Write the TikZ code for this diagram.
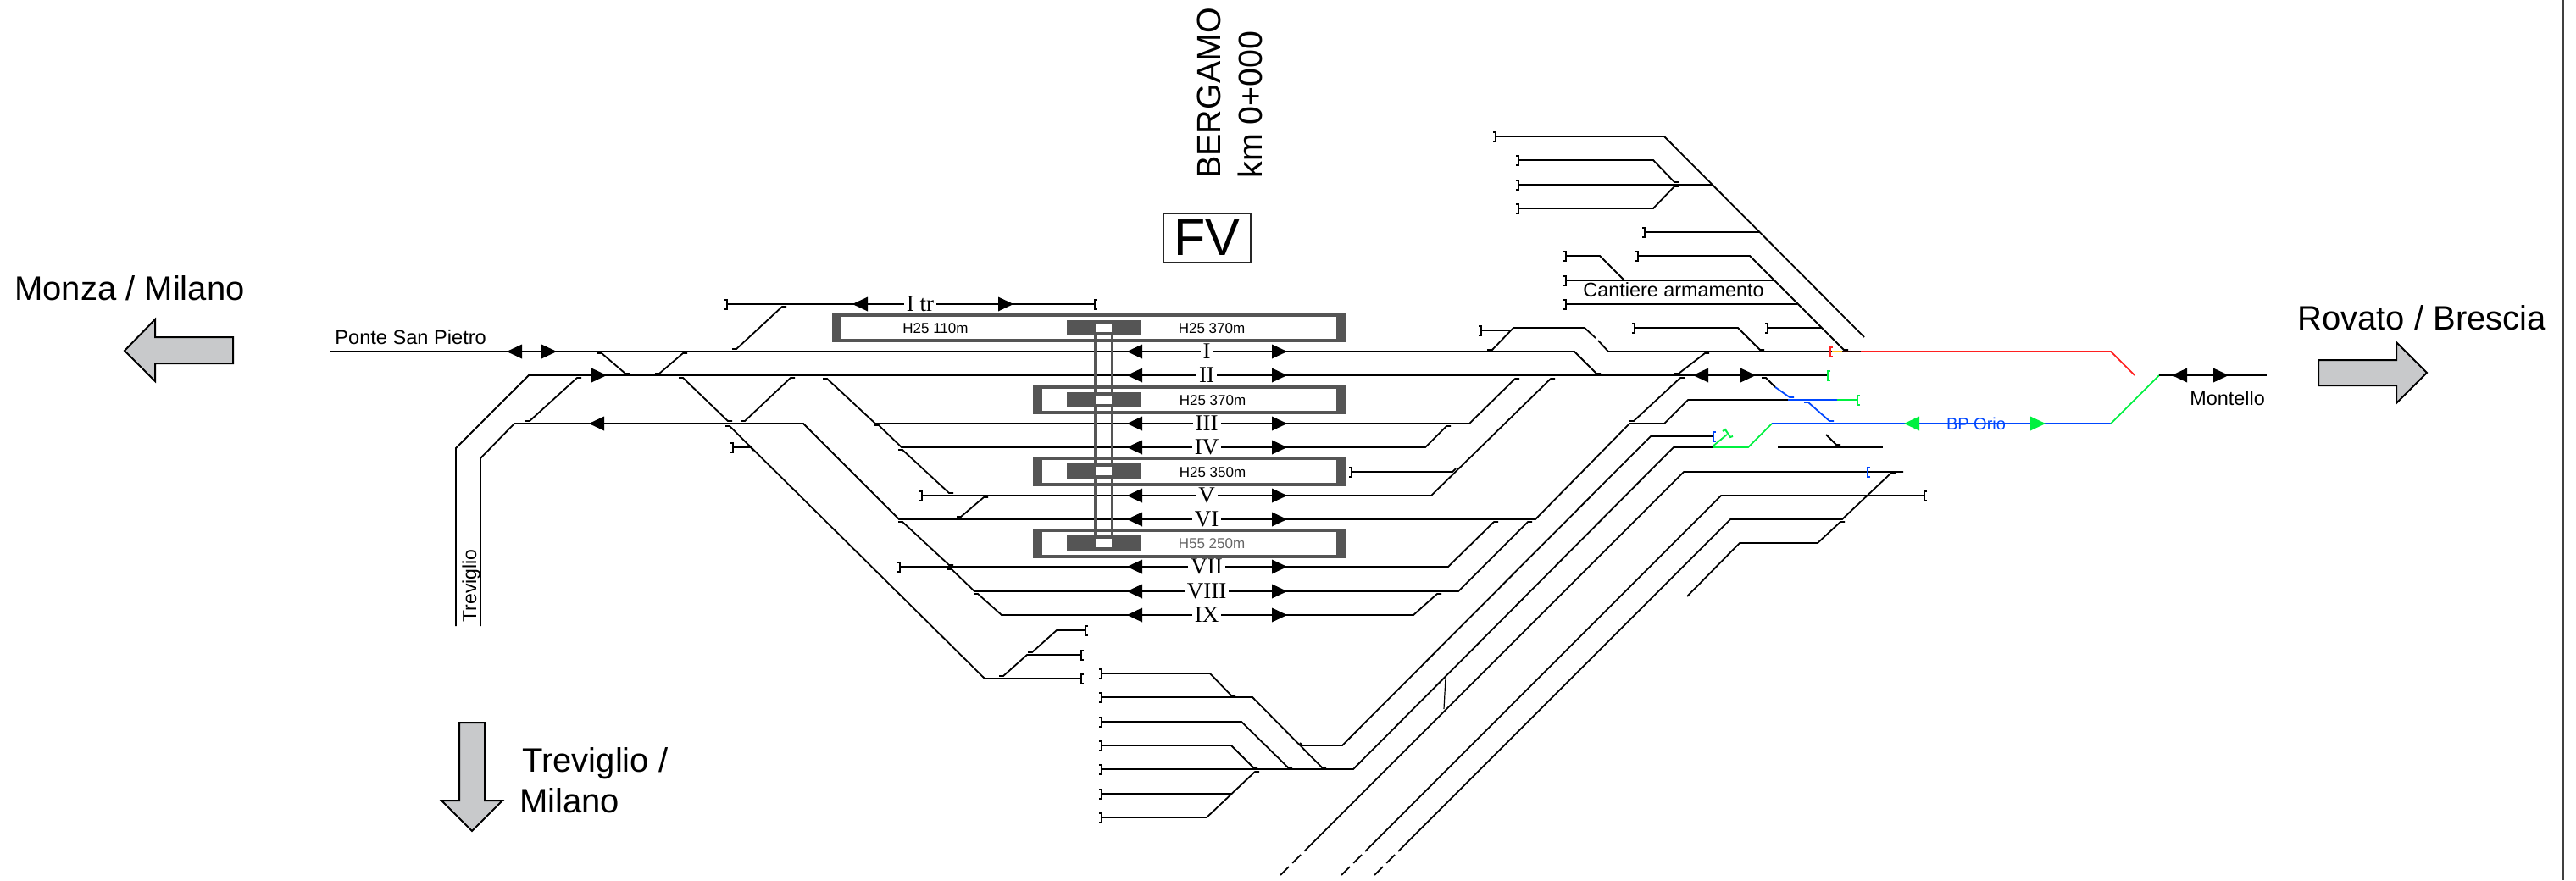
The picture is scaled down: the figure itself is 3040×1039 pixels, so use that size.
\documentclass[tikz,border=0pt]{standalone}
\usepackage{fontspec}
\setmainfont{Liberation Sans}
\newfontfamily\romanfam{Liberation Serif}
\definecolor{platgray}{HTML}{555555}
\definecolor{arrowgray}{HTML}{C8C9CB}
\definecolor{trackgreen}{HTML}{00F040}
\definecolor{trackblue}{HTML}{0047FF}
\definecolor{trackred}{HTML}{FF2020}
\definecolor{trackorange}{HTML}{FFC020}
\newcommand{\fs}[1]{\fontsize{#1}{#1}\selectfont}
% buffers: ] on the left end of a track, [ on the right end
\newcommand{\bufL}[3][black]{\draw[buf,#1] (#2-3,#3-5.5)--(#2,#3-5.5)--(#2,#3+5.5)--(#2-3,#3+5.5);}
\newcommand{\bufR}[3][black]{\draw[buf,#1] (#2+3,#3-5.5)--(#2,#3-5.5)--(#2,#3+5.5)--(#2+3,#3+5.5);}
% switch: points given left to right, ticks at both ends
\newcommand{\swt}[5][black]{\draw[trk,#1] (#2-5,#3)--(#2,#3)--(#4,#5)--(#4+5,#5);}
% arrowheads
\newcommand{\hdL}[3][black]{\fill[#1] (#2,#3)--(#2+18,#3-8.5)--(#2+18,#3+8.5)--cycle;}
\newcommand{\hdR}[3][black]{\fill[#1] (#2,#3)--(#2-18,#3-8.5)--(#2-18,#3+8.5)--cycle;}
\newcommand{\platform}[4]{%
  \draw[line width=1.75pt,platgray,fill=white] (#1,#2) rectangle (#3,#4);
  \fill[platgray] (#1-1,#2) rectangle (#1+9,#4);
  \fill[platgray] (#3-9,#2) rectangle (#3+1,#4);}
\tikzset{
  trk/.style={line width=0.9pt,line join=miter},
  buf/.style={line width=1pt,line join=miter},
  lab/.style={inner sep=0pt,text=black},
  roman/.style={inner ysep=0pt,inner xsep=1.5pt,fill=white,font=\romanfam\fs{13.5}},
  plab/.style={inner sep=0pt,font=\fs{8.5}},
  bigarrow/.style={draw=black,line width=1pt,fill=arrowgray,line join=miter},
}
\begin{document}
\begin{tikzpicture}[x=0.5pt,y=-0.5pt]
\useasboundingbox (0,0) rectangle (3040,1039);
% frame line on the right
\draw[line width=0.7pt,color=black!75] (3025,0)--(3025,1039);

% ---- main tracks
\draw[trk] (390,415)--(1858,415)--(1884,441)--(1889,441);
\draw[trk] (1898,415)--(2162,415);
\draw[trk] (1898,415)--(1886,402);
\draw[trk] (1883,399)--(1870,387)--(1786,387)--(1761,413)--(1755,413);
\draw[trk] (1782,390)--(1748,390); \bufL{1748}{390}
\draw[trk] (538,739)--(538,529)--(624,443)--(2157,443);
\draw[trk] (567,739)--(567,541)--(607,500)--(948,500)--(1061,613)--(1812,613)--(1923,500)--(1964,500)--(1992,472)--(2110,472);
\draw[trk] (971,447)--(976,447)--(1033,500)--(1734,500)--(1788,447)--(1793,447);
\draw[trk] (1032,502)--(1037,502)--(1064,528)--(1682,528)--(1707,503)--(1712,503);
\draw[trk] (1088,585)--(1689,585)--(1830,447)--(1835,447); \bufL{1088}{585}
\draw[trk] (1062,669)--(1709,669)--(1763,616)--(1768,616); \bufL{1062}{669}
\draw[trk] (1118,672)--(1123,672)--(1150,698)--(1721,698)--(1803,616)--(1808,616);
\draw[trk] (1149,701)--(1154,701)--(1182,726)--(1668,726)--(1696,701)--(1701,701);
\draw[trk] (856,503)--(861,503)--(1162,801)--(1276,801); \bufR{1276}{801}
% I tr
\draw[trk] (858,359)--(1292,359); \bufL{858}{359} \bufR{1292}{359}
% switches near the left
\swt{869}{412}{923}{362}
\swt{710}{417}{738}{441}
\swt{778}{441}{806}{417}
\swt{625}{497}{681}{446}
\swt{806}{446}{859}{497}
\swt{879}{497}{933}{446}
\swt{1065}{531}{1120}{582}
\swt{1134}{610}{1161}{587}
\swt{1065}{616}{1120}{667}
\draw[trk] (865,528)--(886,528)--(889,532); \bufL{865}{528}
% bottom-left yard
\swt{1184}{798}{1212}{773}
\draw[trk] (1212,773)--(1276,773); \bufR{1276}{773}
\draw[trk] (1213,770)--(1218,770)--(1247,744)--(1281,744); \bufR{1281}{744}
% lower yard
\draw[trk] (1300,795)--(1428,795)--(1453,821)--(1458,821); \bufL{1300}{795}
\draw[trk] (1300,823)--(1478,823)--(1560,906)--(1565,906); \bufL{1300}{823}
\draw[trk] (1300,852)--(1465,852)--(1520,906)--(1525,906); \bufL{1300}{852}
\draw[trk] (1300,880)--(1453,880)--(1479,906)--(1484,906); \bufL{1300}{880}
\draw[trk] (1300,908)--(1597,908)--(1975,528)--(2021,528); \bufL{1300}{908}
\draw[trk] (1300,937)--(1453,937); \bufL{1300}{937}
\draw[trk] (1300,965)--(1424,965)--(1481,911)--(1486,911); \bufL{1300}{965}
\draw[trk] (1534,877)--(1537,880)--(1584,880)--(1948,515)--(2022,515);
\draw[line width=0.6pt] (1706,800)--(1704,837);
% long diagonals with dashed ends
\draw[trk] (1540,1004)--(1987,557)--(2246,557);
\draw[trk,dash pattern=on 7pt off 3pt] (1511,1033)--(1540,1004);
\draw[trk] (1611,1005)--(2031,585)--(2271,585); \bufR{2271}{585}
\draw[trk,dash pattern=on 7pt off 3pt] (1583,1033)--(1611,1005);
\draw[trk] (1650,1005)--(2042,613)--(2174,613)--(2231,559)--(2237,559);
\draw[trk,dash pattern=on 7pt off 3pt] (1622,1033)--(1650,1005);
\draw[trk] (1991,704)--(2053,641)--(2145,641)--(2172,616)--(2177,616);
\draw[trk] (2098,528)--(2222,528);
\draw[trk] (2155,513)--(2167,525)--(2172,525);
% platform stub
\draw[trk] (1595,557)--(1714,557)--(1718,553); \bufL{1595}{557}
% upper right yard
\draw[trk] (1765,161)--(1964,161)--(2200,398); \bufL{1765}{161}
\draw[trk] (1792,189)--(1951,189)--(1976,215)--(1981,215); \bufL{1792}{189}
\draw[trk] (1792,218)--(2021,218); \bufL{1792}{218}
\draw[trk] (1792,246)--(1951,246)--(1976,220)--(1981,220); \bufL{1792}{246}
\draw[trk] (1941,274)--(2077,274); \bufL{1941}{274}
\draw[trk] (1848,302)--(1888,302)--(1917,331); \bufL{1848}{302}
\draw[trk] (1933,302)--(2065,302)--(2176,413)--(2181,413); \bufL{1933}{302}
\draw[trk] (1848,331)--(2094,331); \bufL{1848}{331}
\draw[trk] (1848,359)--(2121,359); \bufL{1848}{359}
\draw[trk] (1929,387)--(2051,387)--(2077,413)--(2082,413); \bufL{1929}{387}
\draw[trk] (2086,387)--(2150,387); \bufL{2086}{387}
\swt{1981}{441}{2012}{417}
\swt{1928}{497}{1983}{446}
\draw[trk] (2079,446)--(2084,446)--(2095,457);

% ---- coloured section
\draw[trk,trackblue] (2095,457)--(2112,469)--(2117,469);
\swt[trackblue]{2134}{475}{2159}{497}
\draw[trk,trackblue] (2110,472)--(2168,472);
\draw[trk,trackgreen] (2168,472)--(2192,472); \bufR[trackgreen]{2192}{472}
\bufR[trackgreen]{2157}{443}
\draw[trk,trackgreen] (2021,528)--(2063,528)--(2091,500);
\draw[trk,trackblue] (2091,500)--(2491,500);
\draw[trk,trackgreen] (2491,500)--(2548,443);
\draw[trk] (2548,443)--(2675,443);
\draw[trk,trackgreen] (2021,527)--(2038,513);
\draw[buf,trackgreen] (2033,509)--(2036,507)--(2042,516)--(2045,515);
\bufR[trackblue]{2022}{515}
\bufR[trackblue]{2204}{557}
\bufR[trackred]{2160}{415}
\draw[trk,trackorange] (2162,415)--(2174,415);
\draw[trk,black!85!red] (2174,415)--(2196,415);
\draw[trk,trackred] (2196,415)--(2491,415)--(2519,443);

% ---- arrowheads on tracks
\foreach \yy in {415,443,500,528,585,613,669,698,726} {\hdL{1330}{\yy}\hdR{1519}{\yy}}
\hdL{1006}{359}\hdR{1196}{359}
\hdL{598}{415}\hdR{657}{415}
\hdR{716}{443}
\hdL{695}{500}
\hdL{1998}{443}\hdR{2072}{443}
\hdL{2563}{443}\hdR{2630}{443}
\hdL[trackgreen]{2247}{500}\hdR[trackgreen]{2414}{500}

% ---- platforms and underpass
\platform{984}{372}{1586}{402}
\platform{1221}{457}{1586}{487}
\platform{1221}{541}{1586}{572}
\platform{1221}{626}{1586}{657}
\fill[platgray] (1291,390) rectangle (1295,640);
\fill[platgray] (1311,390) rectangle (1314,640);
\foreach \yy in {378,463,547,632}{
  \fill[platgray] (1259,\yy) rectangle (1347,\yy+18);
  \fill[white] (1294,\yy+4) rectangle (1312,\yy+14);
}
\node[plab] (p1a) at (1104,388) {H25 110m};
\node[plab] (p1b) at (1430,388) {H25 370m};
\node[plab] (p2) at (1431,473) {H25 370m};
\node[plab] (p3) at (1431,558) {H25 350m};
\node[plab,text=black!60] (p4) at (1430,642) {H55 250m};

% ---- track numbers
\node[roman] (tItr) at (1086,359) {I tr};
\node[roman] (tI) at (1424,415) {I};
\node[roman] (tII) at (1424,443) {II};
\node[roman] (tIII) at (1424,500) {III};
\node[roman] (tIV) at (1424,528) {IV};
\node[roman] (tV) at (1424,585) {V};
\node[roman] (tVI) at (1424,613) {VI};
\node[roman] (tVII) at (1424,669) {VII};
\node[roman] (tVIII) at (1424,698) {VIII};
\node[roman] (tIX) at (1424,726) {IX};

% ---- big arrows
\draw[bigarrow] (147,414)--(183,377)--(183,398)--(275,398)--(275,429)--(183,429)--(183,450)--cycle;
\draw[bigarrow] (2864,440)--(2828,404)--(2828,425)--(2736,425)--(2736,455)--(2828,455)--(2828,476)--cycle;
\draw[bigarrow] (557,981)--(521,945)--(542,945)--(542,853)--(572,853)--(572,945)--(593,945)--cycle;

% ---- texts
\node[lab,anchor=base west,font=\fs{20}] (monza) at (17,354) {Monza / Milano};
\node[lab,anchor=base west,font=\fs{20}] (rovato) at (2711,389) {Rovato / Brescia};
\node[lab,anchor=base west,font=\fs{20}] (trevA) at (616,911) {Treviglio /};
\node[lab,anchor=base west,font=\fs{20}] (trevB) at (613,959) {Milano};
\node[lab,anchor=base west,font=\fs{11.8}] (ponte) at (395,406) {Ponte San Pietro};
\node[lab,anchor=base west,font=\fs{11.7}] (cant) at (1868,350) {Cantiere armamento};
\node[lab,anchor=base west,font=\fs{11.7}] (mont) at (2584,478) {Montello};
\node[lab,anchor=base,font=\fs{10},text=trackblue] (orio) at (2332,507) {BP Orio};
\node[lab,anchor=base west,font=\fs{11.5},rotate=90] (trev) at (562,735) {Treviglio};
\node[lab,anchor=base west,font=\fs{19.7},rotate=90] (berg) at (1440,211) {BERGAMO};
\node[lab,anchor=base west,font=\fs{19.7},rotate=90] (km) at (1489,211) {km 0+000};
\node[draw=black!85,line width=0.9pt,minimum width=51.5pt,minimum height=29pt,inner sep=0pt,font=\fs{30.5}] (fv) at (1424.5,281) {FV};
\end{tikzpicture}
\end{document}
